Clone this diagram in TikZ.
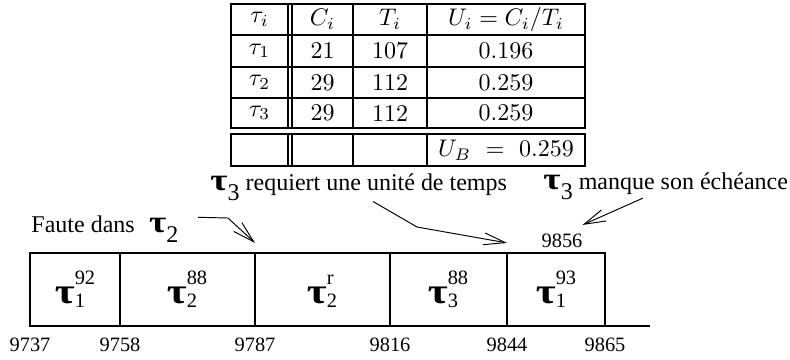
\documentclass[tikz,border=0pt]{standalone}
\usepackage[no-math]{fontspec}
\usepackage{graphicx}
\newfontfamily\tnr{Liberation Serif}
\usetikzlibrary{arrows.meta,positioning}

\newcommand\tausym[1]{{\fontsize{#1}{#1}\selectfont\bfseries\scalebox{1.2}[1]{τ}}}
\newcommand\stau[1]{\tausym{13}\raisebox{-4.5pt}{#1}}
\newcommand\job[2]{\tausym{15}\raisebox{-2pt}{\fontsize{8.5}{9.6}\selectfont
  \begin{tabular}[b]{@{}l@{}}#2\\#1\end{tabular}}}

\begin{document}
\begin{tikzpicture}[x=0.4167pt,y=-0.4167pt,
  tab/.style={line width=0.8pt},
  lbl/.style={inner sep=0pt,font=\tnr\fontsize{10}{12}\selectfont},
  tick/.style={font=\tnr\fontsize{8.5}{10}\selectfont},
  arr/.style={-{Straight Barb[length=9pt,width=5pt]},thin}]
\useasboundingbox (0,0) rectangle (790,359);
% table
\draw[tab] (231,4) rectangle (585,128);
\draw[tab] (231,134) rectangle (585,166);
\foreach \y in {35,67,98} \draw[tab] (231,\y)--(585,\y);
\foreach \x in {288,292,353,427} {\draw[tab] (\x,4)--(\x,128); \draw[tab] (\x,134)--(\x,166);}
\node (htau) at (259.5,19.5) {$\tau_i$};
\node (hc) at (322.5,19.5) {$C_i$};
\node (ht) at (390,19.5) {$T_i$};
\node (hu) at (506,19.5) {$U_i = C_i/T_i$};
\foreach \r/\y/\c/\t/\u in {1/51/21/107/0.196,2/82.5/29/112/0.259,3/113/29/112/0.259} {
  \node (tau\r) at (259.5,\y) {$\tau_\r$};
  \node (c\r) at (322.5,\y) {\c};
  \node (t\r) at (390,\y) {\t};
  \node (u\r) at (506,\y) {\u};
}
\node (ub) at (506,150) {$U_B\ =\ 0.259$};
% time line
\foreach \x [count=\i from 0] in {30,120,255,390,507,605} {
  \coordinate (t\i) at (\x,253);
  \coordinate (b\i) at (\x,326);
}
\coordinate (tend) at (650,326);
\draw[line width=0.6pt] (t0) rectangle (b5);
\foreach \i in {1,...,4} \draw[line width=0.6pt] (t\i)--(b\i);
\draw[line width=0.6pt] (b5)--(tend);
\foreach \v [count=\i from 0] in {9737,9758,9787,9816,9844,9865}
  \node[tick,anchor=base] (n\v) at ([yshift=-10.8pt]b\i) {\v};
\node[tick,anchor=base] (n9856) at (562,247) {9856};
\node[font=\tnr,anchor=base] (j1) at (75,303) {\job{1}{92}};
\node[font=\tnr,anchor=base] (j2) at (187,303) {\job{2}{88}};
\node[font=\tnr,anchor=base] (j3) at (322,303) {\job{2}{r}};
\node[font=\tnr,anchor=base] (j4) at (448,303) {\job{3}{88}};
\node[font=\tnr,anchor=base] (j5) at (556,303) {\job{1}{93}};
% remarks
\node[lbl,anchor=base west] (fault) at (31,232) {Faute dans\hspace{6pt}\stau{2}};
\node[lbl,anchor=base west] (req) at (210,190) {\stau{3} requiert une unité de temps};
\node[lbl,anchor=base west] (miss) at (543,189) {\stau{3} manque son échéance};
\coordinate (k1) at (228,218);
\coordinate (k2) at (417,227);
\draw[arr] ([xshift=8pt,yshift=-1pt]fault.north east) -- (k1) -- ([yshift=4.2pt]t2);
\draw[arr] ([xshift=6pt]req.south) -- (k2) -- ([yshift=4.2pt]t4);
\draw[arr] ([xshift=-9.5pt,yshift=1pt]miss.south) -- ([xshift=-3.5pt]n9856.north east);
\end{tikzpicture}
\end{document}
